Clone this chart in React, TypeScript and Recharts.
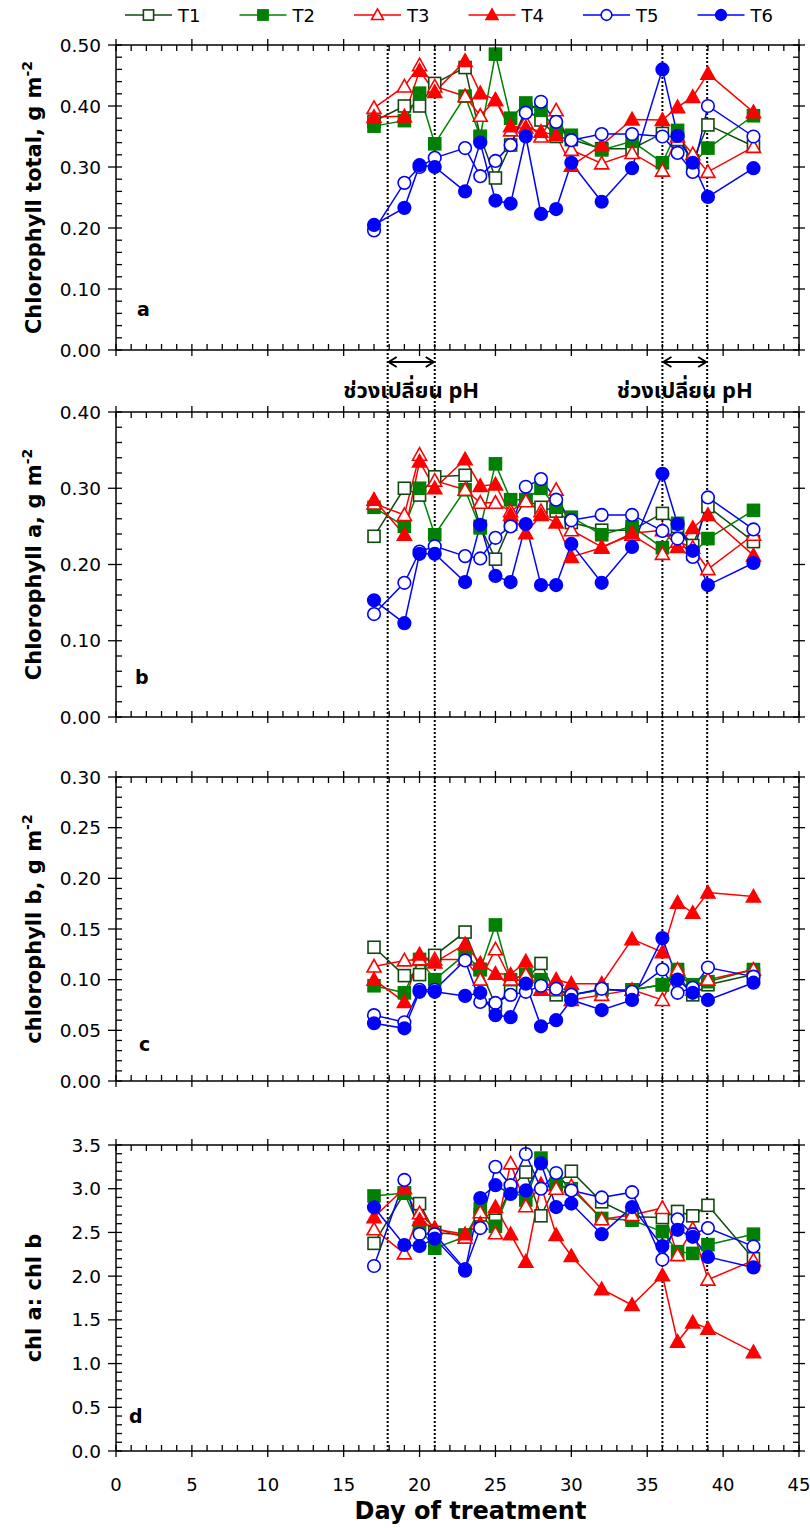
import React from 'react';
import { LineChart, Line, XAxis, YAxis, ReferenceLine } from 'recharts';

// Sampling days (days of treatment)
const days = [17, 19, 20, 21, 23, 24, 25, 26, 27, 28, 29, 30, 32, 34, 36, 37, 38, 39, 42];

// Chlorophyll total, g m-2
const totalT1 = [0.375, 0.4, 0.4, 0.437, 0.463, 0.35, 0.282, 0.336, 0.395, 0.377, 0.35, 0.345, 0.33, 0.33, 0.355, 0.345, 0.31, 0.369, 0.334];
const totalT2 = [0.367, 0.376, 0.421, 0.338, 0.416, 0.35, 0.485, 0.38, 0.405, 0.393, 0.36, 0.352, 0.328, 0.342, 0.307, 0.36, 0.305, 0.331, 0.384];
const totalT3 = [0.397, 0.432, 0.467, 0.432, 0.416, 0.384, 0.41, 0.36, 0.373, 0.35, 0.393, 0.328, 0.306, 0.323, 0.294, 0.35, 0.321, 0.292, 0.333];
const totalT4 = [0.382, 0.383, 0.458, 0.423, 0.474, 0.421, 0.41, 0.367, 0.365, 0.358, 0.352, 0.302, 0.336, 0.378, 0.377, 0.398, 0.415, 0.453, 0.39];
const totalT5 = [0.196, 0.274, 0.3, 0.315, 0.331, 0.285, 0.31, 0.336, 0.389, 0.407, 0.374, 0.344, 0.354, 0.354, 0.35, 0.323, 0.292, 0.4, 0.35];
const totalT6 = [0.205, 0.233, 0.303, 0.3, 0.26, 0.34, 0.245, 0.24, 0.35, 0.223, 0.231, 0.307, 0.243, 0.298, 0.46, 0.351, 0.307, 0.251, 0.298];

// Chlorophyll a, g m-2
const chlAT1 = [0.237, 0.3, 0.291, 0.315, 0.317, 0.25, 0.207, 0.253, 0.285, 0.275, 0.27, 0.255, 0.245, 0.245, 0.267, 0.25, 0.225, 0.276, 0.23];
const chlAT2 = [0.275, 0.25, 0.3, 0.239, 0.298, 0.248, 0.332, 0.285, 0.285, 0.3, 0.275, 0.262, 0.239, 0.25, 0.222, 0.254, 0.214, 0.234, 0.271];
const chlAT3 = [0.28, 0.265, 0.344, 0.31, 0.298, 0.281, 0.281, 0.27, 0.283, 0.27, 0.298, 0.245, 0.223, 0.239, 0.214, 0.23, 0.222, 0.194, 0.239];
const chlAT4 = [0.285, 0.239, 0.335, 0.3, 0.338, 0.303, 0.305, 0.265, 0.241, 0.265, 0.255, 0.21, 0.222, 0.241, 0.245, 0.223, 0.248, 0.265, 0.212];
const chlAT5 = [0.135, 0.176, 0.217, 0.224, 0.211, 0.208, 0.235, 0.25, 0.302, 0.312, 0.285, 0.258, 0.265, 0.265, 0.244, 0.234, 0.21, 0.288, 0.246];
const chlAT6 = [0.153, 0.123, 0.214, 0.214, 0.177, 0.252, 0.185, 0.177, 0.253, 0.173, 0.173, 0.227, 0.176, 0.223, 0.319, 0.253, 0.218, 0.173, 0.202];

// Chlorophyll b, g m-2
const chlBT1 = [0.132, 0.104, 0.105, 0.124, 0.147, 0.11, 0.075, 0.09, 0.1, 0.116, 0.085, 0.085, 0.09, 0.09, 0.095, 0.105, 0.085, 0.095, 0.105];
const chlBT2 = [0.094, 0.087, 0.12, 0.1, 0.125, 0.11, 0.154, 0.1, 0.105, 0.1, 0.09, 0.085, 0.09, 0.09, 0.095, 0.11, 0.095, 0.098, 0.11];
const chlBT3 = [0.113, 0.119, 0.12, 0.12, 0.12, 0.1, 0.13, 0.1, 0.105, 0.09, 0.09, 0.08, 0.085, 0.09, 0.08, 0.11, 0.09, 0.1, 0.11];
const chlBT4 = [0.1, 0.078, 0.125, 0.117, 0.135, 0.116, 0.106, 0.105, 0.118, 0.09, 0.1, 0.096, 0.096, 0.14, 0.127, 0.176, 0.166, 0.186, 0.182];
const chlBT5 = [0.065, 0.058, 0.09, 0.09, 0.119, 0.078, 0.077, 0.085, 0.088, 0.094, 0.091, 0.085, 0.091, 0.088, 0.11, 0.087, 0.092, 0.112, 0.103];
const chlBT6 = [0.057, 0.052, 0.088, 0.088, 0.084, 0.087, 0.065, 0.063, 0.096, 0.054, 0.06, 0.08, 0.07, 0.08, 0.141, 0.1, 0.087, 0.08, 0.097];

// chl a : chl b ratio
const ratioT1 = [2.375, 2.95, 2.83, 2.5, 2.47, 2.7, 2.64, 3.0, 3.19, 2.69, 3.05, 3.2, 2.85, 2.68, 2.67, 2.74, 2.69, 2.81, 2.2];
const ratioT2 = [2.917, 2.95, 2.55, 2.32, 2.45, 2.77, 2.57, 3.0, 2.87, 3.35, 3.05, 3.0, 2.66, 2.64, 2.51, 2.28, 2.26, 2.36, 2.48];
const ratioT3 = [2.536, 2.26, 2.72, 2.55, 2.44, 2.73, 2.49, 3.29, 2.8, 3.05, 3.0, 3.03, 2.65, 2.7, 2.78, 2.24, 2.54, 1.96, 2.18];
const ratioT4 = [2.673, 3.005, 2.642, 2.54, 2.48, 2.6, 2.79, 2.48, 2.165, 3.04, 2.47, 2.23, 1.85, 1.67, 2.01, 1.25, 1.47, 1.4, 1.13];
const ratioT5 = [2.116, 3.1, 2.482, 2.48, 2.08, 2.55, 3.25, 3.04, 3.397, 3.0, 3.18, 2.98, 2.9, 2.96, 2.19, 2.65, 2.48, 2.55, 2.34];
const ratioT6 = [2.787, 2.356, 2.345, 2.43, 2.062, 2.894, 3.04, 2.94, 2.98, 3.29, 2.79, 2.83, 2.48, 2.79, 2.345, 2.53, 2.45, 2.22, 2.1];

// Series styling
const seriesNames = ['T1', 'T2', 'T3', 'T4', 'T5', 'T6'];
const seriesColors = ['#124712', '#008000', '#ff0000', '#ff0000', '#0000ff', '#0000ff'];
const seriesShapes = ['square', 'square', 'triangle', 'triangle', 'circle', 'circle'];
const seriesFilled = [false, true, false, true, false, true];

// pH change windows (day of treatment)
const pHChangeDays = [17.9, 21.0, 36.0, 38.95];
const pHWindows: [number, number][] = [[17.9, 21.0], [36.0, 38.95]];
const pHLabel = 'ช่วงเปลี่ยน pH';

// X axis ticks
const xMajorTicks = [0, 5, 10, 15, 20, 25, 30, 35, 40, 45];
const xMinorStep = 1;
const xMax = 45;

const FONT = "'DejaVu Sans', Verdana, sans-serif";
const THAI_FONT = "'Noto Sans Thai', 'Noto Sans Thai Looped', Loma, Garuda, 'Tlwg Typo', 'DejaVu Sans', sans-serif";

function tickRange(max: number, step: number): number[] {
  const n = Math.round(max / step);
  return Array.from({ length: n + 1 }, (_, i) => +(i * step).toFixed(4));
}
const isIn = (v: number, list: number[]) => list.some((m) => Math.abs(m - v) < 1e-6);

const xTicks = tickRange(xMax, xMinorStep);

function buildRows(series: number[][]) {
  return days.map((d, i) => {
    const row: Record<string, number> = { day: d };
    seriesNames.forEach((n, k) => {
      row[n] = series[k][i];
    });
    return row;
  });
}

function Marker({ cx, cy, idx, scale = 1 }: { cx: number; cy: number; idx: number; scale?: number }) {
  const color = seriesColors[idx];
  const fill = seriesFilled[idx] ? color : '#ffffff';
  const shape = seriesShapes[idx];
  if (shape === 'square') {
    const s = 6 * scale;
    return <rect x={cx - s} y={cy - s} width={2 * s} height={2 * s} fill={fill} stroke={color} strokeWidth={1.6} />;
  }
  if (shape === 'triangle') {
    const w = 7 * scale;
    const h = 6.5 * scale;
    return (
      <polygon
        points={`${cx},${cy - h - 0.5} ${cx + w},${cy + h - 1} ${cx - w},${cy + h - 1}`}
        fill={fill}
        stroke={color}
        strokeWidth={1.6}
        strokeLinejoin="miter"
      />
    );
  }
  return <circle cx={cx} cy={cy} r={6.3 * scale} fill={fill} stroke={color} strokeWidth={1.6} />;
}

type PanelCfg = {
  letter: string;
  title: string;
  sup: string;
  series: number[][];
  top: number;
  bottom: number;
  yMax: number;
  yMajor: number[];
  yMinorStep: number;
  decimals: number;
  extendBelow: number;
  letterDx: number;
  letterDy: number;
  showXLabels: boolean;
  showPHNotes: boolean;
};

const panels: PanelCfg[] = [
  {
    letter: 'a', title: 'Chlorophyll total, g m', sup: '-2',
    series: [totalT1, totalT2, totalT3, totalT4, totalT5, totalT6],
    top: 45, bottom: 350, yMax: 0.5, yMajor: [0, 0.1, 0.2, 0.3, 0.4, 0.5], yMinorStep: 0.02, decimals: 2,
    extendBelow: 62, letterDx: 21, letterDy: 34, showXLabels: false, showPHNotes: true,
  },
  {
    letter: 'b', title: 'Chlorophyll a, g m', sup: '-2',
    series: [chlAT1, chlAT2, chlAT3, chlAT4, chlAT5, chlAT6],
    top: 412, bottom: 717, yMax: 0.4, yMajor: [0, 0.1, 0.2, 0.3, 0.4], yMinorStep: 0.02, decimals: 2,
    extendBelow: 60, letterDx: 19, letterDy: 33, showXLabels: false, showPHNotes: false,
  },
  {
    letter: 'c', title: 'chlorophyll b, g m', sup: '-2',
    series: [chlBT1, chlBT2, chlBT3, chlBT4, chlBT5, chlBT6],
    top: 777, bottom: 1081, yMax: 0.3, yMajor: [0, 0.05, 0.1, 0.15, 0.2, 0.25, 0.3], yMinorStep: 0.01, decimals: 2,
    extendBelow: 64, letterDx: 23, letterDy: 30, showXLabels: false, showPHNotes: false,
  },
  {
    letter: 'd', title: 'chl a: chl b', sup: '',
    series: [ratioT1, ratioT2, ratioT3, ratioT4, ratioT5, ratioT6],
    top: 1145, bottom: 1451, yMax: 3.5, yMajor: [0, 0.5, 1, 1.5, 2, 2.5, 3, 3.5], yMinorStep: 0.1, decimals: 1,
    extendBelow: 0, letterDx: 13, letterDy: 28, showXLabels: true, showPHNotes: false,
  },
];

const AXIS = { stroke: '#000', strokeWidth: 1.5 };

function Panel({ cfg }: { cfg: PanelCfg }) {
  const MT = 10;
  const plotH = cfg.bottom - cfg.top;
  const mb = cfg.showXLabels ? 76 : cfg.extendBelow;
  const height = MT + 1 + plotH + 1 + mb;
  const rows = buildRows(cfg.series);
  const yTicks = tickRange(cfg.yMax, cfg.yMinorStep);

  const bottomTick = (p: any) => {
    const { x, y, payload } = p;
    const major = isIn(payload.value, xMajorTicks);
    return (
      <g>
        <line x1={x} x2={x} y1={y - 6} y2={major ? y + 6 : y} stroke="#000" strokeWidth={1.3} />
        {cfg.showXLabels && major ? (
          <text x={x} y={y + 40} textAnchor="middle" fontFamily={FONT} fontSize={18} fill="#000">
            {payload.value}
          </text>
        ) : null}
      </g>
    );
  };
  const topTick = (p: any) => {
    const { x, y, payload } = p;
    const major = isIn(payload.value, xMajorTicks);
    return <line x1={x} x2={x} y1={major ? y - 6 : y} y2={y + 6} stroke="#000" strokeWidth={1.3} />;
  };
  const leftTick = (p: any) => {
    const { x, y, payload } = p;
    const major = isIn(payload.value, cfg.yMajor);
    return (
      <g>
        <line x1={major ? x - 8 : x} x2={x + 6} y1={y} y2={y} stroke="#000" strokeWidth={1.3} />
        {major ? (
          <text x={x - 15} y={y + 6.5} textAnchor="end" fontFamily={FONT} fontSize={18.5} fill="#000">
            {Number(payload.value).toFixed(cfg.decimals)}
          </text>
        ) : null}
      </g>
    );
  };
  const rightTick = (p: any) => {
    const { x, y, payload } = p;
    const major = isIn(payload.value, cfg.yMajor);
    return <line x1={x - 6} x2={major ? x + 6 : x} y1={y} y2={y} stroke="#000" strokeWidth={1.3} />;
  };

  const yTitle = (props: any) => {
    const vb = props.viewBox || { x: 36, y: MT + 1, width: 80, height: plotH };
    const cx = vb.x + 5;
    const cy = vb.y + vb.height / 2;
    const lx = vb.x + vb.width + cfg.letterDx;
    const ly = vb.y + vb.height - cfg.letterDy;
    return (
      <g>
        <text
          x={cx}
          y={cy}
          transform={`rotate(-90, ${cx}, ${cy})`}
          textAnchor="middle"
          fontFamily={FONT}
          fontWeight="bold"
          fontSize={21}
          fill="#000"
        >
          <tspan>{cfg.title}</tspan>
          {cfg.sup ? (
            <tspan dy={-9} fontSize={14}>
              {cfg.sup}
            </tspan>
          ) : null}
        </text>
        <text x={lx} y={ly} fontFamily={FONT} fontWeight="bold" fontSize={19} fill="#000">
          {cfg.letter}
        </text>
      </g>
    );
  };

  const xTitle = (props: any) => {
    const vb = props.viewBox;
    if (!vb) return null;
    return (
      <text
        x={vb.x + vb.width / 2 + 13}
        y={vb.y + 68}
        textAnchor="middle"
        fontFamily={FONT}
        fontWeight="bold"
        fontSize={24}
        fill="#000"
      >
        Day of treatment
      </text>
    );
  };

  const dottedDivider = (props: any) => {
    const { x1, x2, y1, y2 } = props;
    const top = Math.min(y1, y2);
    const bot = Math.max(y1, y2) + cfg.extendBelow;
    return <line x1={x1} x2={x2} y1={top} y2={bot} stroke="#000" strokeWidth={2} strokeDasharray="2 2" />;
  };

  const pHNote = (props: any) => {
    const { x1, x2, y1 } = props;
    const left = Math.min(x1, x2);
    const right = Math.max(x1, x2);
    const ay = y1 + 12;
    return (
      <g>
        <line x1={left + 1} x2={right - 1} y1={ay} y2={ay} stroke="#000" strokeWidth={2} />
        <polyline points={`${left + 9},${ay - 5} ${left + 1},${ay} ${left + 9},${ay + 5}`} fill="none" stroke="#000" strokeWidth={2} />
        <polyline points={`${right - 9},${ay - 5} ${right - 1},${ay} ${right - 9},${ay + 5}`} fill="none" stroke="#000" strokeWidth={2} />
        <text
          x={(left + right) / 2}
          y={y1 + 48}
          textAnchor="middle"
          fontFamily={THAI_FONT}
          fontWeight="bold"
          fontSize={22}
          fill="#000"
        >
          {pHLabel}
        </text>
      </g>
    );
  };

  return (
    <div style={{ position: 'absolute', left: 0, top: cfg.top - MT - 1, width: 810, height }}>
      <LineChart width={810} height={height} data={rows} margin={{ top: MT, right: 10, bottom: mb, left: 36 }}>
        <XAxis
          xAxisId="bottom"
          type="number"
          dataKey="day"
          domain={[0, xMax]}
          ticks={xTicks}
          interval={0}
          tickSize={0}
          tickMargin={0}
          height={1}
          tick={bottomTick}
          axisLine={AXIS}
          tickLine={false}
          allowDataOverflow
          label={cfg.showXLabels ? xTitle : undefined}
        />
        <XAxis
          xAxisId="top"
          orientation="top"
          type="number"
          dataKey="day"
          domain={[0, xMax]}
          ticks={xTicks}
          interval={0}
          tickSize={0}
          tickMargin={0}
          height={1}
          tick={topTick}
          axisLine={AXIS}
          tickLine={false}
          allowDataOverflow
        />
        <YAxis
          yAxisId="left"
          type="number"
          domain={[0, cfg.yMax]}
          ticks={yTicks}
          interval={0}
          tickSize={0}
          tickMargin={0}
          width={80}
          tick={leftTick}
          axisLine={AXIS}
          tickLine={false}
          allowDataOverflow
          label={yTitle}
        />
        <YAxis
          yAxisId="right"
          orientation="right"
          type="number"
          domain={[0, cfg.yMax]}
          ticks={yTicks}
          interval={0}
          tickSize={0}
          tickMargin={0}
          width={1}
          tick={rightTick}
          axisLine={AXIS}
          tickLine={false}
          allowDataOverflow
        />
        {pHChangeDays.map((d) => (
          <ReferenceLine
            key={`ph-${d}`}
            xAxisId="bottom"
            yAxisId="left"
            x={d}
            shape={dottedDivider}
          />
        ))}
        {cfg.showPHNotes
          ? pHWindows.map(([a, b]) => (
              <ReferenceLine
                key={`win-${a}`}
                xAxisId="bottom"
                yAxisId="left"
                segment={[{ x: a, y: 0 }, { x: b, y: 0 }]}
                ifOverflow="visible"
                shape={pHNote}
              />
            ))
          : null}
        {seriesNames.map((name, k) => (
          <Line
            key={name}
            xAxisId="bottom"
            yAxisId="left"
            type="linear"
            dataKey={name}
            stroke={seriesColors[k]}
            strokeWidth={1.5}
            isAnimationActive={false}
            activeDot={false}
            dot={(p: any) => <Marker key={`${name}-${p.index}`} cx={p.cx} cy={p.cy} idx={k} />}
          />
        ))}
      </LineChart>
    </div>
  );
}

function SeriesLegend() {
  return (
    <svg width={810} height={34} style={{ position: 'absolute', left: 0, top: 0 }}>
      {seriesNames.map((name, k) => {
        const x0 = 125 + k * 114.5;
        return (
          <g key={name}>
            <line x1={x0} x2={x0 + 47} y1={15} y2={15} stroke={seriesColors[k]} strokeWidth={1.5} />
            <Marker cx={x0 + 23.5} cy={15} idx={k} scale={0.85} />
            <text x={x0 + 53} y={22} fontFamily={FONT} fontSize={18} fill="#000">
              {name}
            </text>
          </g>
        );
      })}
    </svg>
  );
}

export default function App() {
  return (
    <div style={{ position: 'absolute', left: 0, top: 0, width: 810, height: 1528, background: '#fff' }}>
      {panels.map((p) => (
        <Panel key={p.letter} cfg={p} />
      ))}
      <SeriesLegend />
    </div>
  );
}
